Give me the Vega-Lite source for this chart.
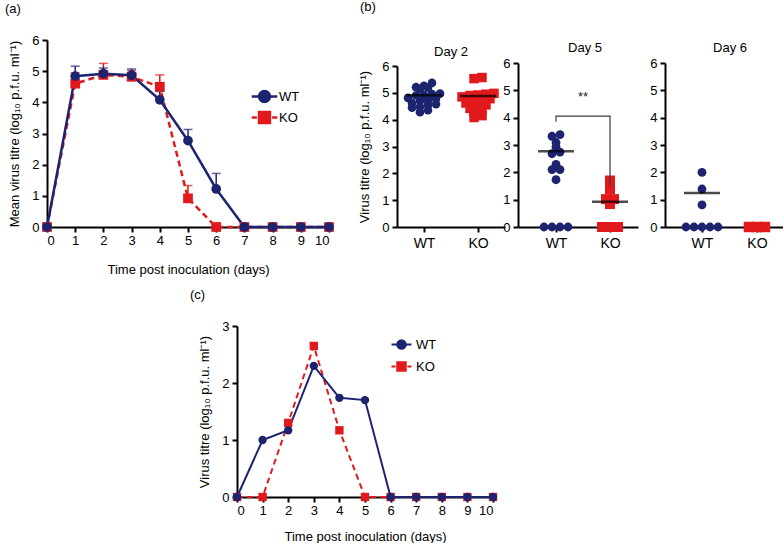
{
  "$schema": "https://vega.github.io/schema/vega-lite/v6.json",
  "background": "white",
  "padding": {"left": 5, "top": 1, "right": 0, "bottom": 0},
  "columns": 7,
  "align": "each",
  "bounds": "flush",
  "spacing": {"row": 99, "column": 0},
  "resolve": {"scale": {"color": "independent", "shape": "independent", "fill": "independent", "stroke": "independent"},
              "legend": {"fill": "independent", "stroke": "independent", "color": "independent"}},
  "datasets": {
    "a": [
      {"day": 0, "g": "KO", "v": 0, "up": null},
      {"day": 1, "g": "KO", "v": 4.6, "up": 4.95},
      {"day": 2, "g": "KO", "v": 4.88, "up": 5.25},
      {"day": 3, "g": "KO", "v": 4.82, "up": 5.02},
      {"day": 4, "g": "KO", "v": 4.5, "up": 4.88},
      {"day": 5, "g": "KO", "v": 0.92, "up": 1.33},
      {"day": 6, "g": "KO", "v": 0, "up": null},
      {"day": 7, "g": "KO", "v": 0, "up": null},
      {"day": 8, "g": "KO", "v": 0, "up": null},
      {"day": 9, "g": "KO", "v": 0, "up": null},
      {"day": 10, "g": "KO", "v": 0, "up": null},
      {"day": 0, "g": "WT", "v": 0, "up": null},
      {"day": 1, "g": "WT", "v": 4.84, "up": 5.16},
      {"day": 2, "g": "WT", "v": 4.92, "up": 5.1},
      {"day": 3, "g": "WT", "v": 4.87, "up": 5.07},
      {"day": 4, "g": "WT", "v": 4.08, "up": 4.35},
      {"day": 5, "g": "WT", "v": 2.77, "up": 3.13},
      {"day": 6, "g": "WT", "v": 1.22, "up": 1.72},
      {"day": 7, "g": "WT", "v": 0, "up": null},
      {"day": 8, "g": "WT", "v": 0, "up": null},
      {"day": 9, "g": "WT", "v": 0, "up": null},
      {"day": 10, "g": "WT", "v": 0, "up": null}
    ],
    "b": [
      {"day": "Day 2", "g": "WT", "v": 5.37}, {"day": "Day 2", "g": "WT", "v": 5.26},
      {"day": "Day 2", "g": "WT", "v": 5.21}, {"day": "Day 2", "g": "WT", "v": 5.19},
      {"day": "Day 2", "g": "WT", "v": 5.15}, {"day": "Day 2", "g": "WT", "v": 4.95},
      {"day": "Day 2", "g": "WT", "v": 4.97}, {"day": "Day 2", "g": "WT", "v": 4.9},
      {"day": "Day 2", "g": "WT", "v": 4.92}, {"day": "Day 2", "g": "WT", "v": 4.81},
      {"day": "Day 2", "g": "WT", "v": 4.78}, {"day": "Day 2", "g": "WT", "v": 4.72},
      {"day": "Day 2", "g": "WT", "v": 4.7}, {"day": "Day 2", "g": "WT", "v": 4.62},
      {"day": "Day 2", "g": "WT", "v": 4.55}, {"day": "Day 2", "g": "WT", "v": 4.58},
      {"day": "Day 2", "g": "WT", "v": 4.45}, {"day": "Day 2", "g": "WT", "v": 4.48},
      {"day": "Day 2", "g": "WT", "v": 4.35}, {"day": "Day 2", "g": "WT", "v": 4.28},
      {"day": "Day 2", "g": "KO", "v": 5.57}, {"day": "Day 2", "g": "KO", "v": 5.53},
      {"day": "Day 2", "g": "KO", "v": 4.98}, {"day": "Day 2", "g": "KO", "v": 4.95},
      {"day": "Day 2", "g": "KO", "v": 4.92}, {"day": "Day 2", "g": "KO", "v": 4.9},
      {"day": "Day 2", "g": "KO", "v": 4.85}, {"day": "Day 2", "g": "KO", "v": 4.78},
      {"day": "Day 2", "g": "KO", "v": 4.7}, {"day": "Day 2", "g": "KO", "v": 4.65},
      {"day": "Day 2", "g": "KO", "v": 4.62}, {"day": "Day 2", "g": "KO", "v": 4.55},
      {"day": "Day 2", "g": "KO", "v": 4.52}, {"day": "Day 2", "g": "KO", "v": 4.42},
      {"day": "Day 2", "g": "KO", "v": 4.35}, {"day": "Day 2", "g": "KO", "v": 4.3},
      {"day": "Day 2", "g": "KO", "v": 4.15}, {"day": "Day 2", "g": "KO", "v": 4.08},
      {"day": "Day 5", "g": "WT", "v": 3.38}, {"day": "Day 5", "g": "WT", "v": 3.32},
      {"day": "Day 5", "g": "WT", "v": 3.09}, {"day": "Day 5", "g": "WT", "v": 2.93},
      {"day": "Day 5", "g": "WT", "v": 2.74}, {"day": "Day 5", "g": "WT", "v": 2.68},
      {"day": "Day 5", "g": "WT", "v": 2.29}, {"day": "Day 5", "g": "WT", "v": 2.1},
      {"day": "Day 5", "g": "WT", "v": 2.1}, {"day": "Day 5", "g": "WT", "v": 1.73},
      {"day": "Day 5", "g": "WT", "v": 0}, {"day": "Day 5", "g": "WT", "v": 0},
      {"day": "Day 5", "g": "WT", "v": 0}, {"day": "Day 5", "g": "WT", "v": 0},
      {"day": "Day 5", "g": "KO", "v": 1.7}, {"day": "Day 5", "g": "KO", "v": 1.39},
      {"day": "Day 5", "g": "KO", "v": 1.02}, {"day": "Day 5", "g": "KO", "v": 1.02},
      {"day": "Day 5", "g": "KO", "v": 0.84}, {"day": "Day 5", "g": "KO", "v": 0},
      {"day": "Day 5", "g": "KO", "v": 0}, {"day": "Day 5", "g": "KO", "v": 0},
      {"day": "Day 6", "g": "WT", "v": 2.0}, {"day": "Day 6", "g": "WT", "v": 1.39},
      {"day": "Day 6", "g": "WT", "v": 0.81}, {"day": "Day 6", "g": "WT", "v": 0},
      {"day": "Day 6", "g": "WT", "v": 0}, {"day": "Day 6", "g": "WT", "v": 0},
      {"day": "Day 6", "g": "WT", "v": 0}, {"day": "Day 6", "g": "WT", "v": 0},
      {"day": "Day 6", "g": "KO", "v": 0}, {"day": "Day 6", "g": "KO", "v": 0},
      {"day": "Day 6", "g": "KO", "v": 0}
    ],
    "bm": [
      {"day": "Day 2", "g": "WT", "v": 4.91}, {"day": "Day 2", "g": "KO", "v": 4.88},
      {"day": "Day 5", "g": "WT", "v": 2.77}, {"day": "Day 5", "g": "KO", "v": 0.92},
      {"day": "Day 6", "g": "WT", "v": 1.24}
    ],
    "br": [
      {"k": 1, "g": "WT", "v": 3.85}, {"k": 2, "g": "WT", "v": 4.06},
      {"k": 3, "g": "KO", "v": 4.06}, {"k": 4, "g": "KO", "v": 1.51}
    ],
    "c": [
      {"day": 0, "g": "KO", "v": 0}, {"day": 1, "g": "KO", "v": 0}, {"day": 2, "g": "KO", "v": 1.3},
      {"day": 3, "g": "KO", "v": 2.65}, {"day": 4, "g": "KO", "v": 1.17}, {"day": 5, "g": "KO", "v": 0},
      {"day": 6, "g": "KO", "v": 0}, {"day": 7, "g": "KO", "v": 0}, {"day": 8, "g": "KO", "v": 0},
      {"day": 9, "g": "KO", "v": 0}, {"day": 10, "g": "KO", "v": 0},
      {"day": 0, "g": "WT", "v": 0}, {"day": 1, "g": "WT", "v": 1.0}, {"day": 2, "g": "WT", "v": 1.17},
      {"day": 3, "g": "WT", "v": 2.3}, {"day": 4, "g": "WT", "v": 1.74}, {"day": 5, "g": "WT", "v": 1.7},
      {"day": 6, "g": "WT", "v": 0}, {"day": 7, "g": "WT", "v": 0}, {"day": 8, "g": "WT", "v": 0},
      {"day": 9, "g": "WT", "v": 0}, {"day": 10, "g": "WT", "v": 0}
    ]
  },
  "concat": [
    {
      "width": 282, "height": 187,
      "title": {"text": "(a)", "anchor": "start", "frame": "group", "dx": -42, "offset": 5, "baseline": "bottom"},
      "data": {"name": "a"},
      "encoding": {
        "x": {"field": "day", "type": "quantitative", "scale": {"domain": [0, 10], "nice": false},
              "axis": {"title": "Time post inoculation (days)", "values": [0,1,2,3,4,5,6,7,8,9,10], "labelPadding": 2, "titlePadding": 16}},
        "y": {"field": "v", "type": "quantitative", "scale": {"domain": [0, 6], "nice": false},
              "axis": {"title": "Mean virus titre (log₁₀ p.f.u. ml⁻¹)", "values": [0,1,2,3,4,5,6], "titlePadding": 10}}
      },
      "layer": [
        {"data": {"values": [{}]}, "mark": {"type": "rule", "color": "#6f6f6f", "strokeWidth": 1, "strokeDash": [1.5, 1.5]},
         "encoding": {"y": {"datum": 0.82, "type": "quantitative"}, "x": {"datum": 0, "type": "quantitative"}, "x2": {"datum": 10}}},
        {"transform": [{"filter": "datum.up != null"}], "mark": {"type": "rule", "strokeWidth": 1.5},
         "encoding": {"y2": {"field": "up"}, "color": {"condition": {"test": "datum.g === 'WT'", "value": "#1c2470"}, "value": "#e2191c"}}},
        {"transform": [{"filter": "datum.up != null"}], "mark": {"type": "tick", "orient": "horizontal", "size": 9, "thickness": 1.5},
         "encoding": {"y": {"field": "up", "type": "quantitative"}, "color": {"condition": {"test": "datum.g === 'WT'", "value": "#1c2470"}, "value": "#e2191c"}}},
        {"transform": [{"filter": "datum.g === 'KO'"}], "mark": {"type": "line", "color": "#e2191c", "strokeWidth": 2.5, "strokeDash": [6, 4]}},
        {"transform": [{"filter": "datum.g === 'WT'"}], "mark": {"type": "line", "color": "#1c2470", "strokeWidth": 2.5}},
        {"mark": {"type": "point", "filled": true, "opacity": 1, "strokeWidth": 0},
         "encoding": {
           "size": {"value": 95},
           "shape": {"condition": {"test": "datum.g === 'WT'", "value": "circle"}, "value": "square"},
           "color": {"condition": {"test": "datum.g === 'WT'", "value": "#1c2470"}, "value": "#e2191c"}
         }},
        {"data": {"values": []}, "mark": {"type": "point", "filled": true, "stroke": "#1c2470", "opacity": 1},
         "encoding": {
           "fill": {"field": "g", "type": "nominal", "scale": {"domain": ["WT"], "range": ["#1c2470"]},
             "legend": {"orient": "none", "legendX": 208, "legendY": 47, "title": null, "padding": 0,
               "labelFontSize": 13, "labelColor": "black", "labelOffset": 5, "symbolSize": 256, "symbolStrokeWidth": 2.5,
               "symbolStrokeColor": "#1c2470", "symbolOpacity": 1,
               "symbolType": "M-1.6,0L1.6,0M0.68,0A0.68,0.68 0 1,1 -0.68,0A0.68,0.68 0 1,1 0.68,0Z"}}
         }},
        {"data": {"values": []}, "mark": {"type": "point", "filled": true, "fill": "#e2191c", "opacity": 1},
         "encoding": {
           "stroke": {"field": "g", "type": "nominal", "scale": {"domain": ["KO"], "range": ["#e2191c"]},
             "legend": {"orient": "none", "legendX": 208, "legendY": 68, "title": null, "padding": 0,
               "labelFontSize": 13, "labelColor": "black", "labelOffset": 5, "symbolSize": 256, "symbolStrokeWidth": 2.5,
               "symbolFillColor": "#e2191c", "symbolOpacity": 1,
               "symbolType": "M-1.6,0L-0.95,0M0.95,0L1.6,0M-0.68,-0.68L0.68,-0.68L0.68,0.68L-0.68,0.68Z"}}
         }}
      ]
    },
    {
      "width": 68, "height": 187,
      "title": {"text": "(b)", "anchor": "start", "frame": "group", "dx": 31, "offset": 13, "baseline": "bottom"},
      "data": {"values": [{}]},
      "mark": {"type": "text", "text": ""}
    },
    {
      "width": 108, "height": 187,
      "title": {"text": "Day 2", "offset": 0, "dy": 32, "baseline": "bottom"},
      "encoding": {
        "x": {"field": "g", "type": "nominal", "scale": {"type": "point", "domain": ["WT", "KO"], "padding": 0.5, "align": 0.5},
              "axis": {"title": null, "labelAngle": 0, "labelFontSize": 14, "labelPadding": 4}},
        "y": {"field": "v", "type": "quantitative", "scale": {"domain": [0, 6], "nice": false, "range": [187, 26]},
              "axis": {"title": "Virus titre (log₁₀ p.f.u. ml⁻¹)", "values": [0,1,2,3,4,5,6], "titlePadding": 10}}
      },
      "layer": [
        {"data": {"values": [{}]}, "mark": {"type": "rule", "color": "#8a8a8a", "strokeWidth": 1, "strokeDash": [1.5, 1.5]},
         "encoding": {"x": null, "y": {"datum": 0.8, "type": "quantitative"}}},
        {"data": {"name": "b"},
         "transform": [
           {"filter": "datum.day === 'Day 2'"},
           {"bin": {"step": 0.2, "extent": [0, 6.4]}, "field": "v", "as": "vb"},
           {"window": [{"op": "row_number", "as": "rn"}, {"op": "count", "as": "cnt"}], "groupby": ["g", "vb"], "sort": [{"field": "v", "order": "ascending"}], "frame": [null, null]},
           {"calculate": "datum.rn - (datum.cnt + 1) / 2", "as": "off"}
         ],
         "mark": {"type": "point", "filled": true, "opacity": 1, "strokeWidth": 0},
         "encoding": {
           "xOffset": {"field": "off", "type": "quantitative", "scale": {"domain": [-1, 1], "range": [-8, 8]}},
           "size": {"condition": {"test": "datum.g === 'KO'", "value": 90}, "value": 75},
           "shape": {"condition": {"test": "datum.g === 'WT'", "value": "circle"}, "value": "square"},
           "color": {"condition": {"test": "datum.g === 'WT'", "value": "#1c2470"}, "value": "#e2191c"}
         }},
        {"data": {"name": "bm"}, "transform": [{"filter": "datum.day === 'Day 2'"}],
         "mark": {"type": "tick", "orient": "horizontal", "size": 36, "thickness": 2.5, "color": "black"}}
      ]
    },
    {
      "width": 13, "height": 10,
      "data": {"values": [{}]},
      "mark": {"type": "text", "text": ""}
    },
    {
      "width": 120, "height": 187,
      "title": {"text": "Day 5", "offset": 0, "dy": 28, "dx": 7, "baseline": "bottom"},
      "encoding": {
        "x": {"field": "g", "type": "nominal", "scale": {"type": "point", "domain": ["WT", "KO"], "padding": 0.611, "align": 0.576},
              "axis": {"title": null, "labelAngle": 0, "labelFontSize": 14, "labelPadding": 4}},
        "y": {"field": "v", "type": "quantitative", "scale": {"domain": [0, 6], "nice": false, "range": [187, 23]},
              "axis": {"title": null, "values": [0,1,2,3,4,5,6]}}
      },
      "layer": [
        {"data": {"values": [{}]}, "mark": {"type": "rule", "color": "#8a8a8a", "strokeWidth": 1, "strokeDash": [1.5, 1.5]},
         "encoding": {"x": null, "y": {"datum": 0.8, "type": "quantitative"}}},
        {"data": {"name": "b"},
         "transform": [
           {"filter": "datum.day === 'Day 5'"},
           {"bin": {"step": 0.25, "extent": [0, 6.5]}, "field": "v", "as": "vb"},
           {"window": [{"op": "row_number", "as": "rn"}, {"op": "count", "as": "cnt"}], "groupby": ["g", "vb"], "sort": [{"field": "v", "order": "ascending"}], "frame": [null, null]},
           {"calculate": "datum.rn - (datum.cnt + 1) / 2", "as": "off"}
         ],
         "mark": {"type": "point", "filled": true, "opacity": 1, "strokeWidth": 0},
         "encoding": {
           "xOffset": {"field": "off", "type": "quantitative", "scale": {"domain": [-1, 1], "range": [-10, 10]}},
           "size": {"condition": {"test": "datum.g === 'KO'", "value": 100}, "value": 78},
           "shape": {"condition": {"test": "datum.g === 'WT'", "value": "circle"}, "value": "square"},
           "color": {"condition": {"test": "datum.g === 'WT'", "value": "#1c2470"}, "value": "#e2191c"}
         }},
        {"data": {"name": "bm"}, "transform": [{"filter": "datum.day === 'Day 5'"}],
         "mark": {"type": "tick", "orient": "horizontal", "size": 36, "thickness": 2.5, "color": "black"}},
        {"data": {"name": "br"}, "mark": {"type": "line", "color": "#3a3a3a", "strokeWidth": 1.2},
         "encoding": {"order": {"field": "k", "type": "quantitative"}}},
        {"data": {"values": [{"g": "WT", "v": 4.75, "s": "**"}]},
         "mark": {"type": "text", "dx": 27, "fontSize": 13, "baseline": "middle", "color": "#222"},
         "encoding": {"text": {"field": "s"}}}
      ]
    },
    {
      "width": 27, "height": 10,
      "data": {"values": [{}]},
      "mark": {"type": "text", "text": ""}
    },
    {
      "width": 118, "height": 187,
      "title": {"text": "Day 6", "offset": 0, "dy": 28, "dx": 6, "baseline": "bottom"},
      "encoding": {
        "x": {"field": "g", "type": "nominal", "scale": {"type": "point", "domain": ["WT", "KO"], "padding": 0.573, "align": 0.587},
              "axis": {"title": null, "labelAngle": 0, "labelFontSize": 14, "labelPadding": 4}},
        "y": {"field": "v", "type": "quantitative", "scale": {"domain": [0, 6], "nice": false, "range": [187, 23]},
              "axis": {"title": null, "values": [0,1,2,3,4,5,6]}}
      },
      "layer": [
        {"data": {"values": [{}]}, "mark": {"type": "rule", "color": "#8a8a8a", "strokeWidth": 1, "strokeDash": [1.5, 1.5]},
         "encoding": {"x": null, "y": {"datum": 0.8, "type": "quantitative"}}},
        {"data": {"name": "b"},
         "transform": [
           {"filter": "datum.day === 'Day 6'"},
           {"bin": {"step": 0.25, "extent": [0, 6.5]}, "field": "v", "as": "vb"},
           {"window": [{"op": "row_number", "as": "rn"}, {"op": "count", "as": "cnt"}], "groupby": ["g", "vb"], "sort": [{"field": "v", "order": "ascending"}], "frame": [null, null]},
           {"calculate": "datum.rn - (datum.cnt + 1) / 2", "as": "off"}
         ],
         "mark": {"type": "point", "filled": true, "opacity": 1, "strokeWidth": 0},
         "encoding": {
           "xOffset": {"field": "off", "type": "quantitative", "scale": {"domain": [-1, 1], "range": [-8, 8]}},
           "size": {"condition": {"test": "datum.g === 'KO'", "value": 110}, "value": 78},
           "shape": {"condition": {"test": "datum.g === 'WT'", "value": "circle"}, "value": "square"},
           "color": {"condition": {"test": "datum.g === 'WT'", "value": "#1c2470"}, "value": "#e2191c"}
         }},
        {"data": {"name": "bm"}, "transform": [{"filter": "datum.day === 'Day 6'"}],
         "mark": {"type": "tick", "orient": "horizontal", "size": 36, "thickness": 2.5, "color": "black"}}
      ]
    },
    {
      "width": 282, "height": 171,
      "title": {"text": "(c)", "anchor": "start", "frame": "group", "dx": 143, "offset": 5, "baseline": "bottom"},
      "data": {"name": "c"},
      "encoding": {
        "x": {"field": "day", "type": "quantitative", "scale": {"domain": [0, 10], "nice": false, "range": [190, 446]},
              "axis": {"title": "Time post inoculation (days)", "values": [0,1,2,3,4,5,6,7,8,9,10], "labelPadding": 2, "titlePadding": 13}},
        "y": {"field": "v", "type": "quantitative", "scale": {"domain": [0, 3], "nice": false},
              "axis": {"title": "Virus titre (log₁₀ p.f.u. ml⁻¹)", "values": [0,1,2,3], "titlePadding": 10, "offset": -190}}
      },
      "layer": [
        {"data": {"values": [{}]}, "mark": {"type": "rule", "color": "#6f6f6f", "strokeWidth": 1, "strokeDash": [1.5, 1.5]},
         "encoding": {"y": {"datum": 0.69, "type": "quantitative"}, "x": {"datum": 0, "type": "quantitative"}, "x2": {"datum": 10}}},
        {"transform": [{"filter": "datum.g === 'KO'"}], "mark": {"type": "line", "color": "#e2191c", "strokeWidth": 2, "strokeDash": [6, 4]}},
        {"transform": [{"filter": "datum.g === 'WT'"}], "mark": {"type": "line", "color": "#1c2470", "strokeWidth": 2}},
        {"mark": {"type": "point", "filled": true, "opacity": 1, "strokeWidth": 0},
         "encoding": {
           "size": {"value": 70},
           "shape": {"condition": {"test": "datum.g === 'WT'", "value": "circle"}, "value": "square"},
           "color": {"condition": {"test": "datum.g === 'WT'", "value": "#1c2470"}, "value": "#e2191c"}
         }},
        {"data": {"values": []}, "mark": {"type": "point", "filled": true, "stroke": "#1c2470", "opacity": 1},
         "encoding": {
           "fill": {"field": "g", "type": "nominal", "scale": {"domain": ["WT"], "range": ["#1c2470"]},
             "legend": {"orient": "none", "legendX": 347, "legendY": 11, "title": null, "padding": 0,
               "labelFontSize": 13, "labelColor": "black", "labelOffset": 7, "symbolSize": 156, "symbolStrokeWidth": 2,
               "symbolStrokeColor": "#1c2470", "symbolOpacity": 1,
               "symbolType": "M-1.6,0L1.6,0M0.68,0A0.68,0.68 0 1,1 -0.68,0A0.68,0.68 0 1,1 0.68,0Z"}}
         }},
        {"data": {"values": []}, "mark": {"type": "point", "filled": true, "fill": "#e2191c", "opacity": 1},
         "encoding": {
           "stroke": {"field": "g", "type": "nominal", "scale": {"domain": ["KO"], "range": ["#e2191c"]},
             "legend": {"orient": "none", "legendX": 347, "legendY": 33, "title": null, "padding": 0,
               "labelFontSize": 13, "labelColor": "black", "labelOffset": 7, "symbolSize": 156, "symbolStrokeWidth": 2,
               "symbolFillColor": "#e2191c", "symbolOpacity": 1,
               "symbolType": "M-1.6,0L-0.95,0M0.95,0L1.6,0M-0.68,-0.68L0.68,-0.68L0.68,0.68L-0.68,0.68Z"}}
         }}
      ]
    }
  ],
  "config": {
    "font": "Liberation Sans",
    "view": {"stroke": null},
    "title": {"fontSize": 13, "fontWeight": "normal", "color": "black"},
    "axis": {"domainColor": "black", "domainWidth": 2, "tickColor": "black", "tickWidth": 2, "tickSize": 5,
             "labelColor": "black", "labelFontSize": 13, "titleFontSize": 13, "titleFontWeight": "normal",
             "titleColor": "black", "grid": false, "labelPadding": 3}
  }
}
